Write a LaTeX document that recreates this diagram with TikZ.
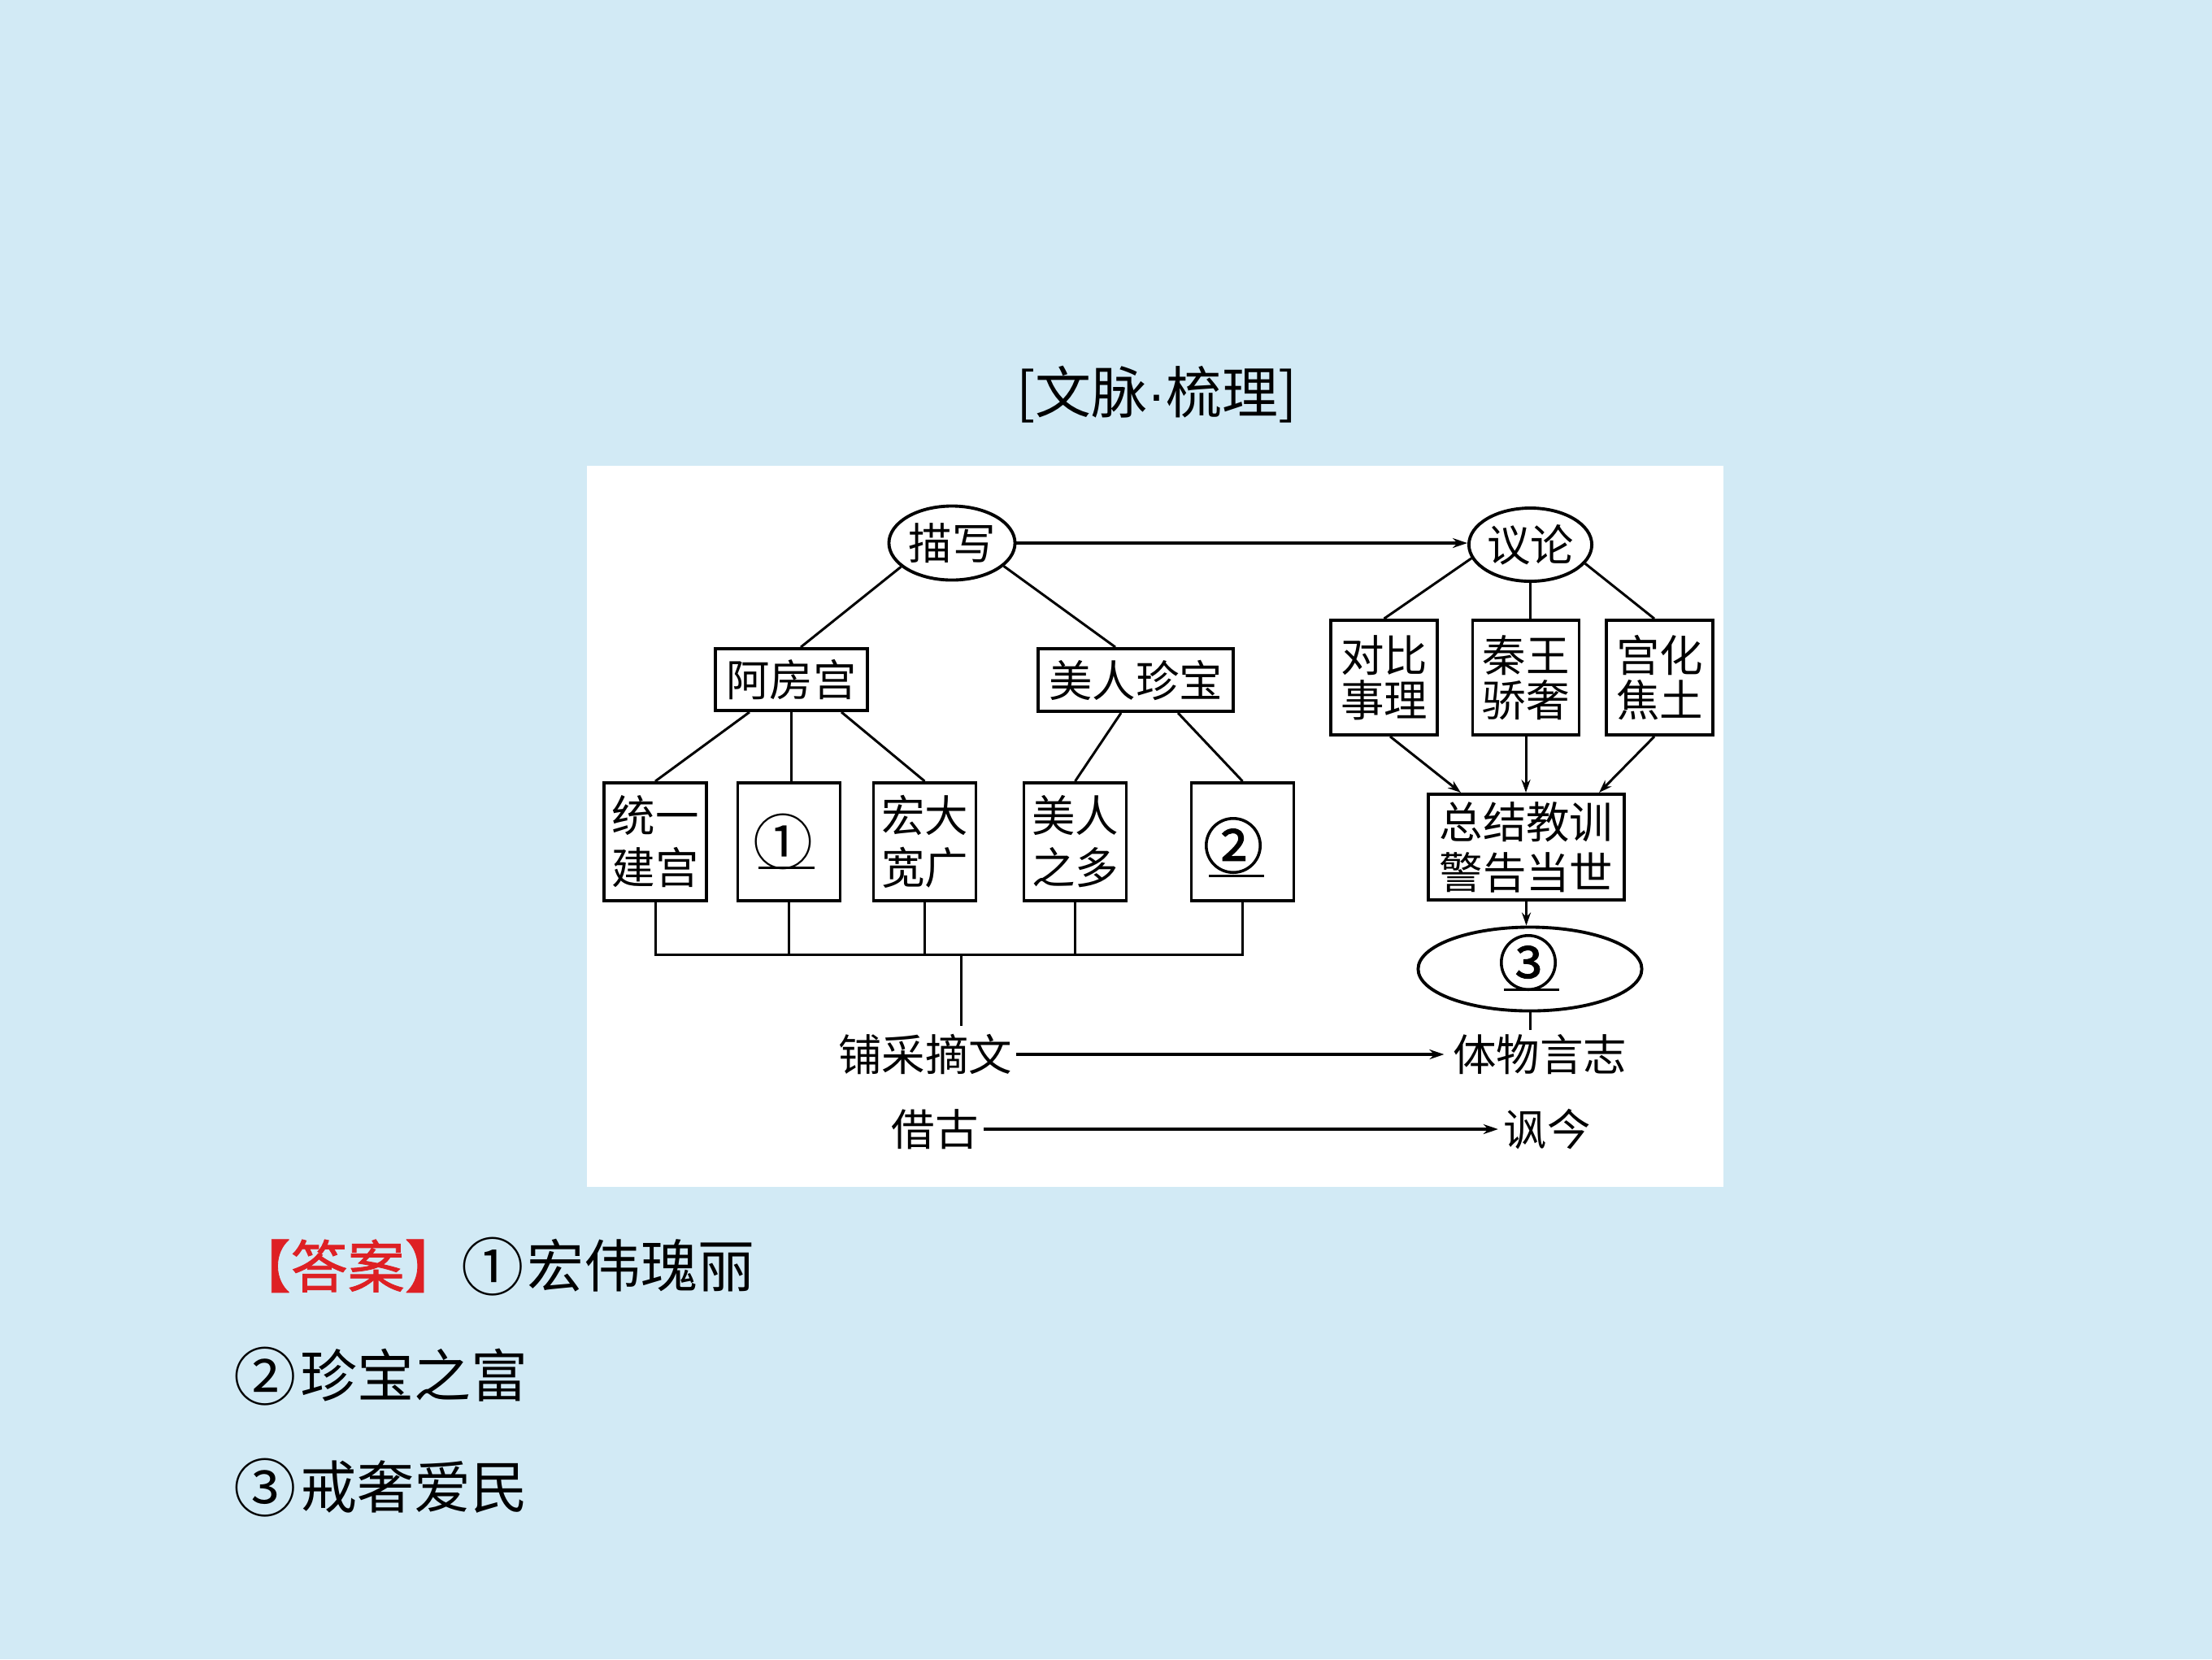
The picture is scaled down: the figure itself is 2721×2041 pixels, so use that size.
\documentclass[tikz,border=0pt]{standalone}
\usepackage{fontspec}
\setmainfont{Noto Sans CJK SC}
\newfontfamily\cjk{Noto Sans CJK SC}
\newfontfamily\cjkb[FakeBold=1.2]{Noto Sans CJK SC}
\newfontfamily\cjkbb[FakeBold=1.6]{Noto Sans CJK SC}
\newfontfamily\latsans{Liberation Sans}
\usetikzlibrary{shapes.geometric,arrows.meta}
\definecolor{bgblue}{RGB}{210,234,245}
\definecolor{ansred}{RGB}{222,32,36}
\newcommand\dgfont{\cjk\fontsize{15.2pt}{18.2pt}\selectfont}
\newcommand\rfont{\cjk\fontsize{15.2pt}{15.7pt}\selectfont}
\newcommand\zjfont{\cjk\fontsize{15.2pt}{17.6pt}\selectfont}
\newcommand\numfont{\cjk\fontsize{21pt}{22pt}\selectfont}
\newcommand\numfontb{\cjkbb\fontsize{21pt}{22pt}\selectfont}
\newcommand\titlefont{\cjk\fontsize{19.6pt}{22pt}\selectfont}
\newcommand\ansfont{\cjk\fontsize{19.9pt}{22pt}\selectfont}
\newcommand\bignum[1]{\raisebox{-1pt}{\fontsize{22pt}{24pt}\selectfont #1}\kern0.04cm}
\begin{document}
\begin{tikzpicture}[x=0.01cm, y=-0.01cm,
  boxnode/.style={draw, line width=1.1pt, inner sep=0pt, align=center, font=\dgfont},
  bbox/.style={boxnode, minimum width=1.26cm, minimum height=1.45cm},
  rbox/.style={boxnode, minimum width=1.31cm, minimum height=1.41cm, font=\rfont},
  ellnode/.style={draw, ellipse, line width=1.1pt, inner sep=0pt, font=\dgfont},
  txtnode/.style={inner sep=0pt, font=\dgfont},
  numnode/.style={inner sep=0pt, font=\numfont},
  ansnode/.style={anchor=west, inner sep=0pt, font=\ansfont},
  conn/.style={line width=0.85pt},
  arr/.style={line width=0.85pt, -{Stealth[length=0.16cm,width=0.11cm]}},
  harr/.style={line width=1.1pt, -{Stealth[length=0.18cm,width=0.12cm]}},
  uline/.style={line width=0.85pt}
]
\useasboundingbox (0,0) rectangle (2721,2041);
\fill[bgblue] (0,0) rectangle (2721,2041);
\fill[white] (722,573) rectangle (2120,1460);

\node[font=\titlefont, inner sep=0pt] (title) at (1423,485) {[文脉{\latsans ·}梳理]};

% top level
\node[ellnode, minimum width=1.55cm, minimum height=0.91cm] (mx) at (1171,668) {描写};
\node[ellnode, minimum width=1.51cm, minimum height=0.90cm] (yl) at (1882.5,670) {议论};

% left branch
\node[boxnode, minimum width=1.87cm, minimum height=0.76cm] (afg) at (973.5,836) {阿房宫};
\node[boxnode, minimum width=2.40cm, minimum height=0.77cm] (mr) at (1397,836.5) {美人珍宝};
\node[bbox] (b1) at (806,1035.5) {统一\\建宫};
\node[bbox] (b2) at (970.5,1035.5) {};
\node[bbox] (b3) at (1137.5,1035.5) {宏大\\宽广};
\node[bbox] (b4) at (1322.5,1035.5) {美人\\之多};
\node[bbox] (b5) at (1528.5,1035.5) {};
\node[numnode] (n1) at (963,1035) {①};
\node[numnode, font=\numfontb] (n2) at (1517,1040) {②};
\coordinate (u1a) at (933,1067);
\coordinate (u1b) at (1002,1067);
\coordinate (u2a) at (1487,1077);
\coordinate (u2b) at (1555,1077);
\draw[uline] (u1a) -- (u1b);
\draw[uline] (u2a) -- (u2b);

% right branch
\node[rbox] (r1) at (1702.5,833.5) {对比\\事理};
\node[rbox] (r2) at (1877,833.5) {秦王\\骄奢};
\node[rbox] (r3) at (2041.5,833.5) {宫化\\焦土};
\node[boxnode, minimum width=2.41cm, minimum height=1.30cm, font=\zjfont] (zj) at (1877.5,1042) {总结教训\\警告当世};
\node[ellnode, minimum width=2.75cm, minimum height=1.03cm] (c3) at (1882,1192) {};
\node[numnode, font=\numfontb] (n3) at (1880,1184) {③};
\coordinate (u3a) at (1850,1217);
\coordinate (u3b) at (1918,1217);
\draw[uline] (u3a) -- (u3b);

% bottom texts
\node[txtnode] (pc) at (1138,1297) {铺采摘文};
\node[txtnode] (tw) at (1894,1297) {体物言志};
\node[txtnode] (jg) at (1150,1389) {借古};
\node[txtnode] (fj) at (1903,1389) {讽今};

% connectors
\draw[harr] (mx.east) -- (mx.east -| yl.west);
\draw[conn] (mx.205) -- ([xshift=0.115cm]afg.north);
\draw[conn] (mx.336) -- ([xshift=-0.25cm]mr.north);
\draw[conn] (yl.193) -- (r1.north);
\draw[conn] (yl.south) -- (yl.south |- r2.north);
\draw[conn] (yl.341) -- ([xshift=-0.065cm]r3.north);

\draw[conn] ([xshift=-0.515cm]afg.south) -- (b1.north);
\draw[conn] (afg.south) -- (afg.south |- b2.north);
\draw[conn] ([xshift=0.615cm]afg.south) -- (b3.north);
\draw[conn] ([xshift=-0.18cm]mr.south) -- (b4.north);
\draw[conn] ([xshift=0.52cm]mr.south) -- (b5.north);

\draw[arr] ([xshift=0.075cm]r1.south) -- ([xshift=-0.805cm]zj.north);
\draw[arr] (r2.south) -- (r2.south |- zj.north);
\draw[arr] ([xshift=-0.065cm]r3.south) -- ([xshift=0.895cm]zj.north);
\draw[arr] (zj.south) -- (zj.south |- c3.north);

\coordinate (bus) at (1182,1174);
\coordinate (busend) at (1182,1262);
\draw[conn] (b1.south) -- (b1.south |- bus) -- (b5.south |- bus) -- (b5.south);
\foreach \n in {b2,b3,b4} \draw[conn] (\n.south) -- (\n.south |- bus);
\draw[conn] (bus) -- (busend);

\coordinate (c3end) at (1882,1267);
\draw[conn] (c3.south) -- (c3end);
\draw[harr, shorten <=0.04cm, shorten >=0.1cm] (pc.east) -- (tw.west);
\draw[harr, shorten <=0.06cm, shorten >=0.06cm] (jg.east) -- (fj.west);

% answers
\node[ansnode] (a1) at (287,1558) {{\cjkb\color{ansred}【答案】}\bignum{①}宏伟瑰丽};
\node[ansnode] (a2) at (287,1693) {\bignum{②}珍宝之富};
\node[ansnode] (a3) at (287,1830) {\bignum{③}戒奢爱民};
\end{tikzpicture}
\end{document}
